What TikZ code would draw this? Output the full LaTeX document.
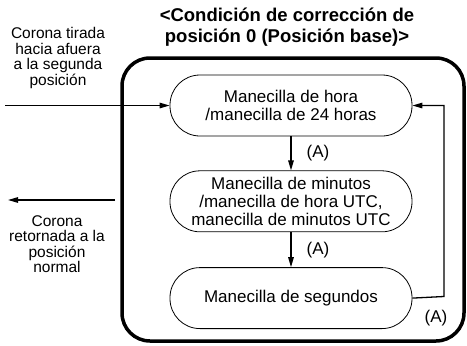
\documentclass[tikz,border=0pt]{standalone}
\usepackage{fontspec}
\setmainfont{Liberation Sans}
\usetikzlibrary{arrows.meta}
\usetikzlibrary{positioning}

\begin{document}
\begin{tikzpicture}[x=1pt, y=-1pt,
  hand/.style={draw, line width=0.8pt, rounded corners=30pt, minimum width=242pt,
    minimum height=61pt, inner sep=0pt, align=center, font=\fontsize{17}{18}\selectfont},
  flow/.style={-{Triangle[length=10pt, width=5.5pt]}, line width=1.3pt},
  note/.style={align=center, inner sep=0pt, font=\fontsize{15.5}{15.5}\selectfont},
  tag/.style={inner sep=0pt, font=\fontsize{17}{18}\selectfont}]

  \useasboundingbox (0,0) rectangle (467,346);

  % title
  \node [align=center, font=\bfseries\fontsize{18.5}{21}\selectfont] (head) at (287,27.5)
    {<Condición de corrección de\\posición 0 (Posición base)>};

  % frame
  \draw [line width=3.5pt, rounded corners=28pt] (122,58) rectangle (464,341);

  % hands
  \node [hand] (hour) at (291,105.5) {Manecilla de hora\\/manecilla de 24 horas};
  \node [hand, below=34pt of hour] (minute) {Manecilla de minutos\\/manecilla de hora UTC,\\manecilla de minutos UTC};
  \node [hand, below=35pt of minute] (second) {Manecilla de segundos};

  % crown labels
  \node [note] (pulled) at (58,58) {Corona tirada\\hacia afuera\\a la segunda\\posición};
  \node [note] (pushed) at (57,244) {Corona\\retornada a la\\posición\\normal};

  % crown arrows
  \coordinate (inend) at (5,105.5);
  \coordinate (outstart) at (115,200);
  \coordinate (outend) at (8,200);
  \draw [flow] (inend) -- (hour.west);
  \draw [flow] (outstart) -- (outend);

  % steps
  \draw [flow] (hour.south) -- (minute.north) node [tag, midway, right=15pt] (a1) {(A)};
  \draw [flow] (minute.south) -- (second.north) node [tag, midway, right=15pt] (a2) {(A)};

  % back to the start
  \coordinate (turn) at (444,296.5);
  \draw [flow] (second.east) -- (turn) |- (hour.east);
  \node [tag] (a3) at (436,318) {(A)};
\end{tikzpicture}
\end{document}
